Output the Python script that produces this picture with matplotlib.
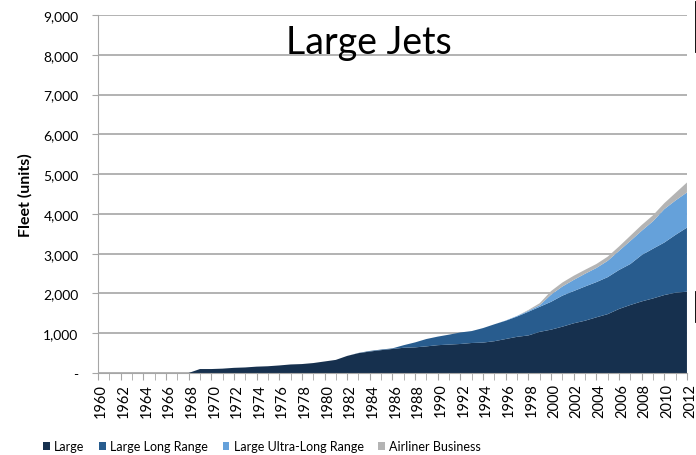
import matplotlib
matplotlib.use("Agg")
import matplotlib.pyplot as plt
from matplotlib.lines import Line2D
from matplotlib.ticker import FuncFormatter, MultipleLocator
from matplotlib.transforms import ScaledTranslation

plt.rcParams['font.family'] = ['Lato', 'DejaVu Sans']

# Jahre und Flotten je Kategorie
years = list(range(1960, 2013))

large = [0, 0, 0, 0, 0, 0, 0, 0, 0, 100,
         100, 110, 130, 140, 160, 170, 190, 215, 225, 250,
         290, 330, 430, 500, 540, 575, 605, 635, 645, 670,
         700, 715, 730, 755, 765, 800, 855, 910, 945, 1035,
         1090, 1165, 1250, 1315, 1400, 1480, 1610, 1710, 1800, 1875,
         1960, 2020, 2045]

large_long_range = [0] * 23 + [5, 15, 15, 15, 65, 125, 185,
                               215, 250, 290, 300, 365, 425, 460, 510, 595, 630,
                               700, 780, 810, 860, 885, 930, 980, 1030, 1165, 1250,
                               1320, 1455, 1610]

large_ultra_long = [0] * 36 + [5, 15, 25, 40,
                               180, 230, 280, 320, 355, 410, 480, 580, 610, 690,
                               840, 865, 885]

airliner_business = [0] * 38 + [20, 50,
                                90, 100, 105, 100, 100, 105, 110, 130, 145, 150,
                                150, 190, 250]

labels = ['Large', 'Large Long Range', 'Large Ultra-Long Range', 'Airliner Business']
colors = ['#16304E', '#285C8E', '#65A1DA', '#B4B4B4']

fig = plt.figure(figsize=(6.96, 4.56), dpi=100)
ax = fig.add_axes([0.1408, 0.1798, 0.8462, 0.785])

ax.stackplot(years, large, large_long_range, large_ultra_long, airliner_business,
             colors=colors, labels=labels, linewidth=0)

ax.set_xlim(1960, 2012)
ax.set_ylim(0, 9000)
ax.yaxis.set_major_locator(MultipleLocator(1000))
ax.yaxis.set_major_formatter(FuncFormatter(lambda v, p: '-' if v == 0 else f'{int(v):,}'))
ax.set_xticks(years[::2])
ax.set_xticks(years, minor=True)
ax.tick_params(axis='x', which='both', length=5, color='#A6A6A6', labelrotation=90,
               labelsize=10.5, pad=2)
ax.tick_params(axis='y', length=4, color='#A6A6A6', labelsize=10, pad=10)

# Jahreszahlen leicht nach rechts wie im Original
shift = ScaledTranslation(3 / 100, 0, fig.dpi_scale_trans)
for lab in ax.get_xticklabels():
    lab.set_transform(lab.get_transform() + shift)

ax.grid(axis='y', color='#A6A6A6', linewidth=1.2)
ax.set_axisbelow(True)
for s in ['top', 'right']:
    ax.spines[s].set_visible(False)
for s in ['left', 'bottom']:
    ax.spines[s].set_color('#A6A6A6')

ax.set_ylabel('Fleet (units)', fontsize=11.5, fontweight='bold', labelpad=8)
ax.text(0.46, 0.925, 'Large Jets', transform=ax.transAxes, ha='center', va='center',
        fontsize=27)

handles, lbls = ax.get_legend_handles_labels()
fig.legend(handles, lbls, loc='center left', bbox_to_anchor=(0.0529, 0.0192), ncol=4,
           frameon=False, fontsize=9, borderpad=0, handlelength=0.55, handleheight=0.55,
           handletextpad=0.35, columnspacing=1.15)

# schwarze Randstriche rechts
fig.add_artist(Line2D([695.5 / 696, 695.5 / 696], [1 - 3 / 456, 1 - 53 / 456],
                      color='black', linewidth=1.3, transform=fig.transFigure))
fig.add_artist(Line2D([695.5 / 696, 695.5 / 696], [1 - 293 / 456, 1 - 323 / 456],
                      color='black', linewidth=1.3, transform=fig.transFigure))

plt.savefig('out.png', dpi=100)
plt.close()
